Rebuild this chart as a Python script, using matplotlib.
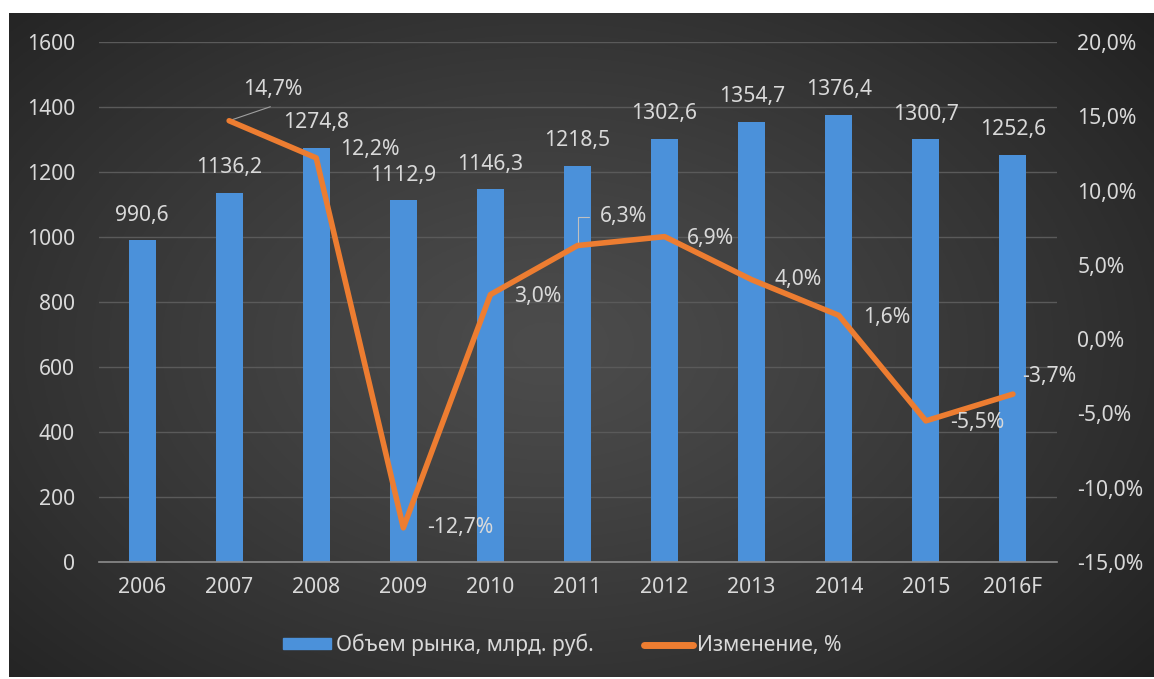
import numpy as np
import matplotlib
matplotlib.use('Agg')
import matplotlib.pyplot as plt
from matplotlib.lines import Line2D
from matplotlib.patches import Patch

plt.rcParams['font.family'] = ['Noto Sans', 'DejaVu Sans']

years = ['2006', '2007', '2008', '2009', '2010', '2011', '2012', '2013', '2014', '2015', '2016F']
volume = [990.6, 1136.2, 1274.8, 1112.9, 1146.3, 1218.5, 1302.6, 1354.7, 1376.4, 1300.7, 1252.6]
change = [np.nan, 14.7, 12.2, -12.7, 3.0, 6.3, 6.9, 4.0, 1.6, -5.5, -3.7]

bar_name = 'Объем рынка, млрд. руб.'
line_name = 'Изменение, %'

W, H = 1154, 679
fs = 15.2
fig = plt.figure(figsize=(W / 100, H / 100), dpi=100)
fig.patch.set_facecolor('white')

# dark radial gradient panel
bg = fig.add_axes([9 / W, 2 / H, 1145 / W, 664 / H])
yy, xx = np.mgrid[0:1:300j, 0:1:500j]
r = np.sqrt(((xx - 0.47) / 0.75) ** 2 + ((yy - 0.5) / 0.85) ** 2)
r = np.clip(r, 0, 1) ** 1.2
c0 = np.array([0x4c, 0x4c, 0x4c]) / 255
c1 = np.array([0x1d, 0x1d, 0x1d]) / 255
img = c0[None, None, :] * (1 - r[..., None]) + c1[None, None, :] * r[..., None]
bg.imshow(img, aspect='auto', extent=[0, 1, 0, 1])
bg.set_axis_off()

ax = fig.add_axes([98.5 / W, 1 - 562 / H, 958 / W, 520 / H])
ax.set_facecolor('none')
x = np.arange(len(years))
txt = '#d9d9d9'

ax.bar(x, volume, width=0.31, color='#4b91da', zorder=3)
ax.set_ylim(0, 1600)
ax.set_xlim(-0.5, len(years) - 0.5)
ax.set_yticks(np.arange(0, 1601, 200))
ax.grid(axis='y', color='#5a5a5a', lw=1, zorder=0)
for s in ['top', 'left', 'right']:
    ax.spines[s].set_visible(False)
ax.spines['bottom'].set_color('#8c8c8c')
ax.spines['bottom'].set_linewidth(1.2)
ax.spines['bottom'].set_zorder(4)
ax.set_xticks(x)
ax.set_xticklabels(years)
ax.tick_params(axis='x', length=0, pad=11, colors=txt, labelsize=fs)
ax.tick_params(axis='y', length=0, pad=17, colors=txt, labelsize=fs)

for xi, v in zip(x, volume):
    ax.annotate(f'{v:.1f}'.replace('.', ','), (xi, v), xytext=(0, 18),
                textcoords='offset points', ha='center', va='center',
                color=txt, fontsize=fs, zorder=6)

ax2 = ax.twinx()
ax2.set_ylim(-15, 20)
ax2.set_yticks(np.arange(-15, 20.1, 5))
ax2.set_yticklabels([f'{t:.1f}%'.replace('.', ',') for t in np.arange(-15, 20.1, 5)])
ax2.tick_params(axis='y', length=0, pad=15, colors=txt, labelsize=fs)
for s in ax2.spines.values():
    s.set_visible(False)
ax2.plot(x, change, color='#ed7d31', lw=4, solid_joinstyle='round',
         solid_capstyle='round', zorder=5)

# label offsets in pixels (dx, dy), dy up
offs = [None, (44, 31), (54, 8), (57, 0), (47, -2), (46, 29), (46, -2),
        (46, 0), (48, -2), (51, -2), (36, 18)]
for xi, v, o in zip(x, change, offs):
    if o is None:
        continue
    ax2.annotate(f'{v:.1f}%'.replace('.', ','), (xi, v),
                 xytext=(o[0] * 0.72, o[1] * 0.72), textcoords='offset points',
                 ha='center', va='center', color=txt, fontsize=fs, zorder=7)

# leader lines
ax2.annotate('', (1, change[1]), xytext=(44 * 0.72 - 2, 14 * 0.72),
             textcoords='offset points',
             arrowprops=dict(arrowstyle='-', color='#a0a0a0', lw=0.8,
                             shrinkA=0, shrinkB=0))
ax2.annotate('', (5, change[5]), xytext=(11 * 0.72, 29 * 0.72),
             textcoords='offset points',
             arrowprops=dict(arrowstyle='-', color='#c0c0c0', lw=0.8,
                             shrinkA=0, shrinkB=0,
                             connectionstyle='angle,angleA=0,angleB=90,rad=0'))

handles = [Patch(color='#4b91da', label=bar_name),
           Line2D([0], [0], color='#ed7d31', lw=5, solid_capstyle='round', label=line_name)]
leg = fig.legend(handles=handles, loc='center', bbox_to_anchor=(0.487, 1 - 645 / H),
                 ncol=2, frameon=False, fontsize=fs, handlelength=2.3,
                 handleheight=0.45, handletextpad=0.2, columnspacing=2.4)
for t in leg.get_texts():
    t.set_color(txt)

fig.savefig('out.png', dpi=100)
